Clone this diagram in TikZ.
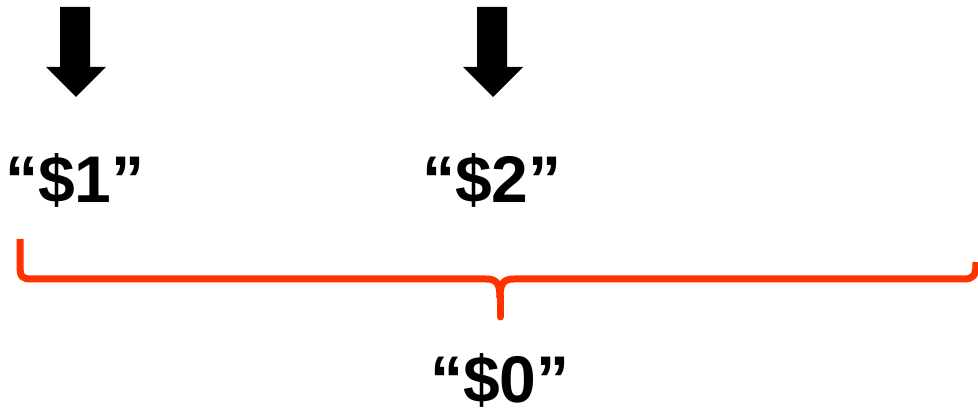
\documentclass[tikz,border=0pt]{standalone}
\usepackage{fontspec}
\setmainfont{Liberation Sans}
\definecolor{bracered}{HTML}{FF3300}
\begin{document}
\begin{tikzpicture}[x=1pt,y=-1pt,
  lbl/.style={anchor=base,inner sep=0pt,font=\fontsize{66}{78}\selectfont\bfseries},
  downarrow/.style={fill=black,draw=none},
  bracepath/.style={draw=bracered,line width=7pt,line join=round}]
\useasboundingbox (0,0) rectangle (978,419);
% arrows
\fill[downarrow] (60,7) -- (90,7) -- (90,67) -- (106,67) -- (76,97) -- (46,67) -- (60,67) -- cycle;
\fill[downarrow] (477,7) -- (507,7) -- (507,67) -- (523,67) -- (493,97) -- (463,67) -- (477,67) -- cycle;
% labels
\node[lbl] (l1) at (75,203) {“\$1”};
\node[lbl] (l2) at (492,203) {“\$2”};
\node[lbl] (l0) at (500,403) {“\$0”};
% brace
\draw[bracepath] (20,239) -- (20,266) .. controls (20,277) and (22,279) .. (32,279)
  -- (486,279) .. controls (497,279) and (500,284) .. (500,298);
\draw[bracepath,line cap=round] (500,296) -- (500,317);
\draw[bracepath] (500,298) .. controls (500,284) and (503,279) .. (514,279)
  -- (964,279) .. controls (974,279) and (976,275) .. (976,262);
\end{tikzpicture}
\end{document}
